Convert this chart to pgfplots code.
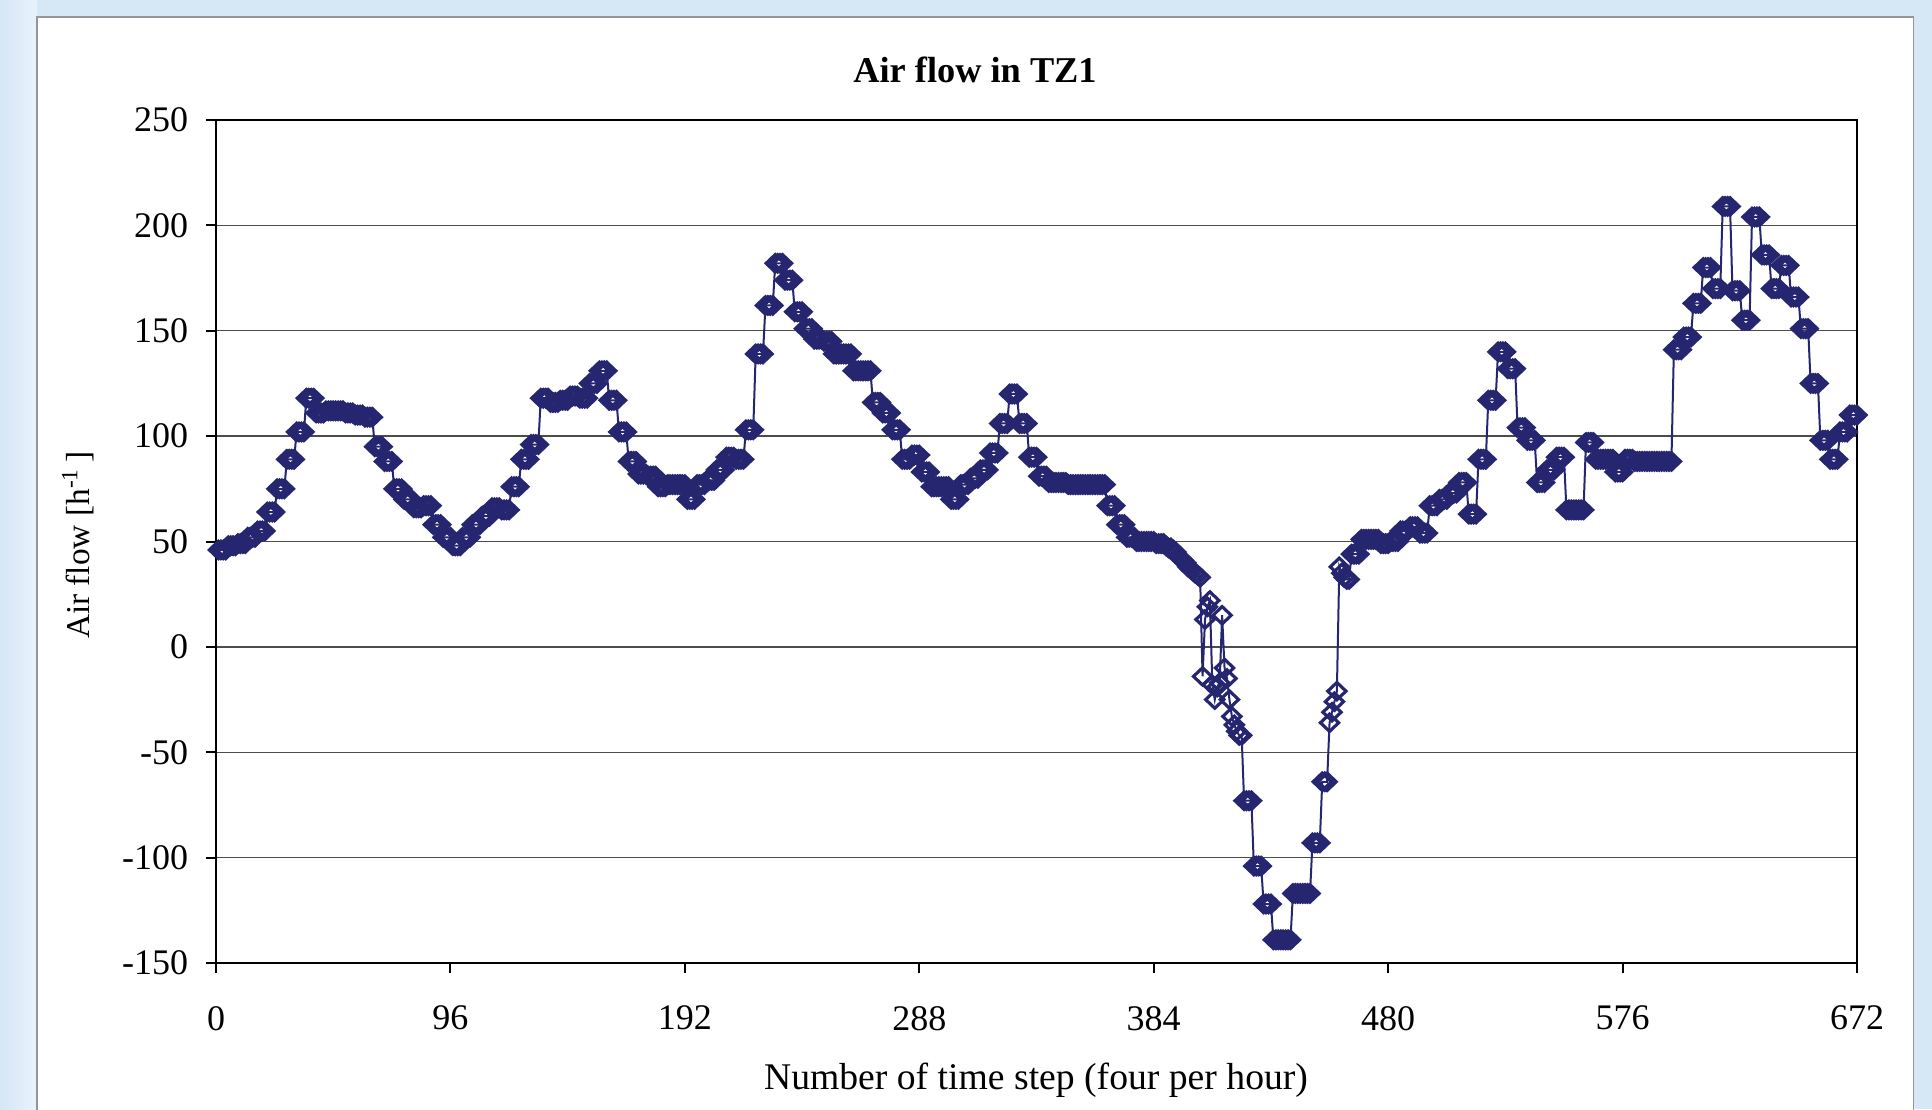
\documentclass[border=0pt]{standalone}
\usepackage{fontspec}
\setmainfont{Liberation Serif}
\usepackage{pgfplots}
\usepackage{pgfplotstable}
\pgfplotsset{compat=1.18}

\definecolor{flownavy}{RGB}{38,38,112}
\definecolor{slideblue}{RGB}{214,231,246}
\definecolor{slidepale}{RGB}{232,242,251}
\definecolor{panelgray}{RGB}{150,150,150}

% air flow in TZ1, one value per time step (four per hour), steps 1..672
\pgfplotstableread[row sep=\\]{
y\\
46\\46\\46\\46\\
48\\48\\48\\48\\
49\\49\\49\\49\\
52\\52\\52\\52\\
55\\55\\55\\55\\
64\\64\\64\\64\\
75\\75\\75\\75\\
89\\89\\89\\89\\
102\\102\\102\\102\\
118\\118\\118\\118\\
111\\111\\111\\111\\
112\\112\\112\\112\\
112\\112\\112\\112\\
111\\111\\111\\111\\
110\\110\\110\\110\\
109\\109\\109\\109\\
95\\95\\95\\95\\
88\\88\\88\\88\\
75\\75\\75\\75\\
70\\70\\70\\70\\
66\\66\\66\\66\\
67\\67\\67\\67\\
58\\58\\58\\58\\
52\\52\\52\\52\\
48\\48\\48\\48\\
52\\52\\52\\52\\
58\\58\\58\\58\\
62\\62\\62\\62\\
66\\66\\66\\66\\
65\\65\\65\\65\\
76\\76\\76\\76\\
89\\89\\89\\89\\
96\\96\\96\\96\\
118\\118\\118\\118\\
116\\116\\116\\116\\
117\\117\\117\\117\\
119\\119\\119\\119\\
118\\118\\118\\118\\
125\\125\\125\\125\\
131\\131\\131\\131\\
117\\117\\117\\117\\
102\\102\\102\\102\\
88\\88\\88\\88\\
82\\82\\82\\82\\
81\\81\\81\\81\\
76\\76\\76\\76\\
77\\77\\77\\77\\
77\\77\\77\\77\\
70\\70\\70\\70\\
77\\77\\77\\77\\
79\\79\\79\\79\\
84\\84\\84\\84\\
90\\90\\90\\90\\
89\\89\\89\\89\\
103\\103\\103\\103\\
139\\139\\139\\139\\
162\\162\\162\\162\\
182\\182\\182\\182\\
174\\174\\174\\174\\
159\\159\\159\\159\\
151\\151\\151\\151\\
146\\146\\146\\146\\
145\\145\\145\\145\\
139\\139\\139\\139\\
139\\139\\139\\139\\
131\\131\\131\\131\\
131\\131\\131\\131\\
116\\116\\116\\116\\
111\\111\\111\\111\\
103\\103\\103\\103\\
89\\89\\89\\89\\
91\\91\\91\\91\\
83\\83\\83\\83\\
76\\76\\76\\76\\
76\\76\\76\\76\\
70\\70\\70\\70\\
77\\77\\77\\77\\
80\\80\\80\\80\\
84\\84\\84\\84\\
92\\92\\92\\92\\
106\\106\\106\\106\\
120\\120\\120\\120\\
106\\106\\106\\106\\
90\\90\\90\\90\\
81\\81\\81\\81\\
78\\78\\78\\78\\
78\\78\\78\\78\\
77\\77\\77\\77\\
77\\77\\77\\77\\
77\\77\\77\\77\\
77\\77\\77\\77\\
67\\67\\67\\67\\
58\\58\\58\\58\\
52\\52\\52\\52\\
50\\50\\50\\50\\
50\\50\\50\\50\\
49\\49\\49\\49\\
48\\47\\47\\46\\
45\\43\\42\\41\\
40\\38\\37\\36\\
35\\34\\33\\-14\\
13\\19\\22\\-18\\
-25\\-19\\-17\\15\\
-10\\-15\\-25\\-33\\
-37\\-40\\-42\\-42\\
-73\\-73\\-73\\-73\\
-104\\-104\\-104\\-104\\
-122\\-122\\-122\\-122\\
-139\\-139\\-139\\-139\\
-139\\-139\\-139\\-139\\
-117\\-117\\-117\\-117\\
-117\\-117\\-117\\-117\\
-93\\-93\\-93\\-93\\
-64\\-64\\-64\\-36\\
-31\\-26\\-21\\38\\
35\\33\\32\\32\\
44\\44\\44\\44\\
51\\51\\51\\51\\
51\\51\\51\\51\\
49\\49\\49\\49\\
50\\50\\50\\50\\
55\\55\\55\\55\\
57\\57\\57\\57\\
54\\54\\54\\54\\
67\\67\\67\\67\\
70\\70\\70\\70\\
73\\73\\73\\73\\
78\\78\\78\\78\\
63\\63\\63\\63\\
89\\89\\89\\89\\
117\\117\\117\\117\\
140\\140\\140\\140\\
132\\132\\132\\132\\
104\\104\\104\\104\\
98\\98\\98\\98\\
78\\78\\78\\78\\
84\\84\\84\\84\\
90\\90\\90\\90\\
65\\65\\65\\65\\
65\\65\\65\\65\\
97\\97\\97\\97\\
89\\89\\89\\89\\
89\\89\\89\\89\\
83\\83\\83\\83\\
89\\89\\89\\89\\
88\\88\\88\\88\\
88\\88\\88\\88\\
88\\88\\88\\88\\
88\\88\\88\\88\\
141\\141\\141\\141\\
147\\147\\147\\147\\
163\\163\\163\\163\\
180\\180\\180\\180\\
170\\170\\170\\170\\
209\\209\\209\\209\\
169\\169\\169\\169\\
155\\155\\155\\155\\
204\\204\\204\\204\\
186\\186\\186\\186\\
170\\170\\170\\170\\
181\\181\\181\\181\\
166\\166\\166\\166\\
151\\151\\151\\151\\
125\\125\\125\\125\\
98\\98\\98\\98\\
89\\89\\89\\89\\
102\\102\\102\\102\\
110\\110\\110\\110\\
}\flowdata

\begin{document}
\begin{tikzpicture}[x=1pt,y=1pt]
\useasboundingbox (0,0) rectangle (579.6,332.7);
\fill[slideblue] (0,0) rectangle (579.6,332.7);
\shade[left color=slideblue, right color=slidepale] (0,0) rectangle (11.1,332.7);
\filldraw[fill=white, draw=panelgray, line width=0.5pt] (11.1,-10) rectangle (574.05,327.6);

\begin{axis}[
  at={(64.8pt,43.8pt)}, anchor=south west,
  width=492.3pt, height=252.9pt, scale only axis,
  xmin=0, xmax=672, ymin=-150, ymax=250,
  xtick={0,96,...,672},
  ytick={-150,-100,...,250},
  xtick pos=bottom, ytick pos=left,
  tick align=outside,
  major tick length=3pt,
  tick style={black, line width=0.6pt},
  ymajorgrids,
  grid style={black!70, line width=0.4pt},
  axis line style={black, line width=0.8pt},
  ticklabel style={font=\fontsize{10.8}{13}\selectfont},
  xticklabel style={anchor=north, yshift=-6.4pt},
  yticklabel style={anchor=east, xshift=-1.8pt},
  /pgf/number format/assume math mode=true,
  clip=false,
]
\addplot[flownavy, line width=0.6pt, mark=diamond, mark size=2.6pt,
  mark options={solid, xscale=1.4, line width=0.95pt}]
  table[x expr=\coordindex+1, y=y] {\flowdata};
\end{axis}

\node[anchor=base, font=\bfseries\fontsize{10.9}{13}\selectfont] at (292.5,307.8) {Air flow in TZ1};
\node[anchor=base, font=\fontsize{11.3}{13}\selectfont] at (310.8,5.8) {Number of time step (four per hour)};
\node[rotate=90, font=\fontsize{10}{12}\selectfont] at (23.4,169.2) {Air flow [h\textsuperscript{-1}\,]};
\end{tikzpicture}
\end{document}
